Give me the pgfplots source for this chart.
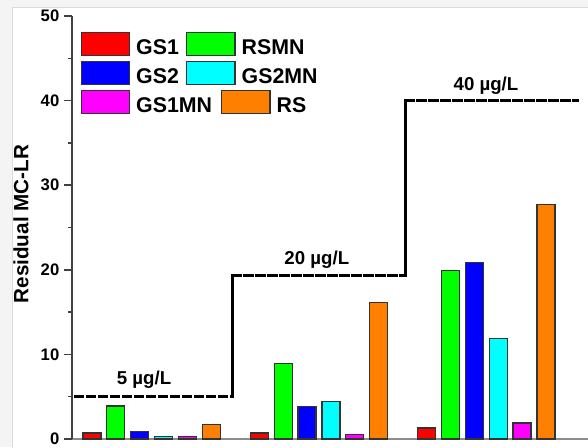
\documentclass[border=0pt]{standalone}
\usepackage{pgfplots}
\pgfplotsset{compat=1.18}
\usepackage{fontspec}
\setmainfont{Liberation Sans}
\definecolor{cRed}{RGB}{255,0,0}
\definecolor{cGreen}{RGB}{0,255,0}
\definecolor{cBlue}{RGB}{0,0,255}
\definecolor{cCyan}{RGB}{0,255,255}
\definecolor{cMag}{RGB}{255,0,255}
\definecolor{cOrange}{RGB}{255,128,0}
\definecolor{bgGray}{RGB}{244,244,244}
\definecolor{frameGray}{RGB}{220,220,220}
\pgfplotsset{
  mybar/.style={ybar, bar width=0.754, bar shift=0pt, draw=black!80, line width=0.9pt,
    legend image code/.code={\draw[##1, draw=black!80, line width=0.9pt] (0pt,-5.5pt) rectangle (36.2pt,11.7pt);}},
  rsleg/.style={legend image code/.code={\draw[##1, draw=black!80, line width=0.9pt, overlay] (26.25pt,-5.5pt) rectangle (62.45pt,11.7pt);}},
  step/.style={black, line width=1.9pt, mark=none, forget plot, line cap=rect, line join=miter},
}
\begin{document}
\begin{tikzpicture}
\path[use as bounding box] (0pt,0pt) rectangle (441pt,-335.25pt);
\fill[bgGray] (0pt,0pt) rectangle (441pt,-335.25pt);
\filldraw[fill=white, draw=frameGray, line width=0.6pt] (9pt,-5.25pt) rectangle (446pt,-340pt);
\begin{axis}[
  at={(54pt,-329.25pt)}, anchor=south west,
  scale only axis, width=387pt, height=317.25pt,
  xmin=-0.837, xmax=20.76, ymin=0, ymax=50,
  axis x line*=bottom, axis y line*=left,
  x axis line style={draw=black!45, line width=1.1pt},
  y axis line style={draw=black!75, line width=1.1pt},
  xtick=\empty, ytick={0,10,20,30,40,50}, minor y tick num=1,
  tick align=outside, major tick length=6pt, minor tick length=3pt,
  every tick/.style={black!75, line width=1.1pt},
  yticklabel style={font=\fontsize{12.5}{14}\selectfont\bfseries},
  /pgf/number format/assume math mode=true,
  ylabel={Residual MC-LR},
  ylabel style={font=\fontsize{15.5}{17}\selectfont\bfseries, at={(axis description cs:-0.099,0.508)}, anchor=center},
  legend columns=2,
  legend cell align=left,
  legend style={at={(axis description cs:0.0169,0.963)}, anchor=north west, draw=none, fill=none,
    inner sep=0pt, outer sep=0pt, font=\fontsize{16}{18}\selectfont\bfseries, row sep=3.4pt,
    nodes={inner sep=0pt},
    /tikz/every odd column/.append style={column sep=4.5pt},
    /tikz/every even column/.append style={column sep=5.5pt}},
  clip=false,
]
\addplot[mybar, fill=cRed] coordinates {(0,0.7) (7,0.7) (14,1.3)};
\addlegendentry{GS1}
\addplot[mybar, fill=cGreen] coordinates {(1,3.9) (8,8.9) (15,19.9)};
\addlegendentry{RSMN}
\addplot[mybar, fill=cBlue] coordinates {(2,0.9) (9,3.8) (16,20.85)};
\addlegendentry{GS2}
\addplot[mybar, fill=cCyan] coordinates {(3,0.3) (10,4.4) (17,11.9)};
\addlegendentry{GS2MN}
\addplot[mybar, fill=cMag] coordinates {(4,0.3) (11,0.5) (18,1.9)};
\addlegendentry{\makebox[32pt][l]{GS1MN}}
\addplot[mybar, rsleg, fill=cOrange] coordinates {(5,1.7) (12,16.1) (19,27.7)};
\addlegendentry{\hspace*{26.25pt}RS}
\addplot[step, dash pattern=on 6pt off 3pt] coordinates {(-0.72,5) (5.87,5)};
\addplot[step] coordinates {(5.87,5) (5.87,19.3)};
\addplot[step, dash pattern=on 6pt off 3pt] coordinates {(5.87,19.3) (13.12,19.3)};
\addplot[step] coordinates {(13.12,19.3) (13.12,40)};
\addplot[step, dash pattern=on 6pt off 3pt] coordinates {(13.12,40) (20.33,40)};
\node[font=\fontsize{14}{16}\selectfont\bfseries] at (axis cs:2.18,6.97) {5 µg/L};
\node[font=\fontsize{14}{16}\selectfont\bfseries] at (axis cs:9.41,21.2) {20 µg/L};
\node[font=\fontsize{14}{16}\selectfont\bfseries] at (axis cs:16.49,41.8) {40 µg/L};
\end{axis}
\end{tikzpicture}
\end{document}
